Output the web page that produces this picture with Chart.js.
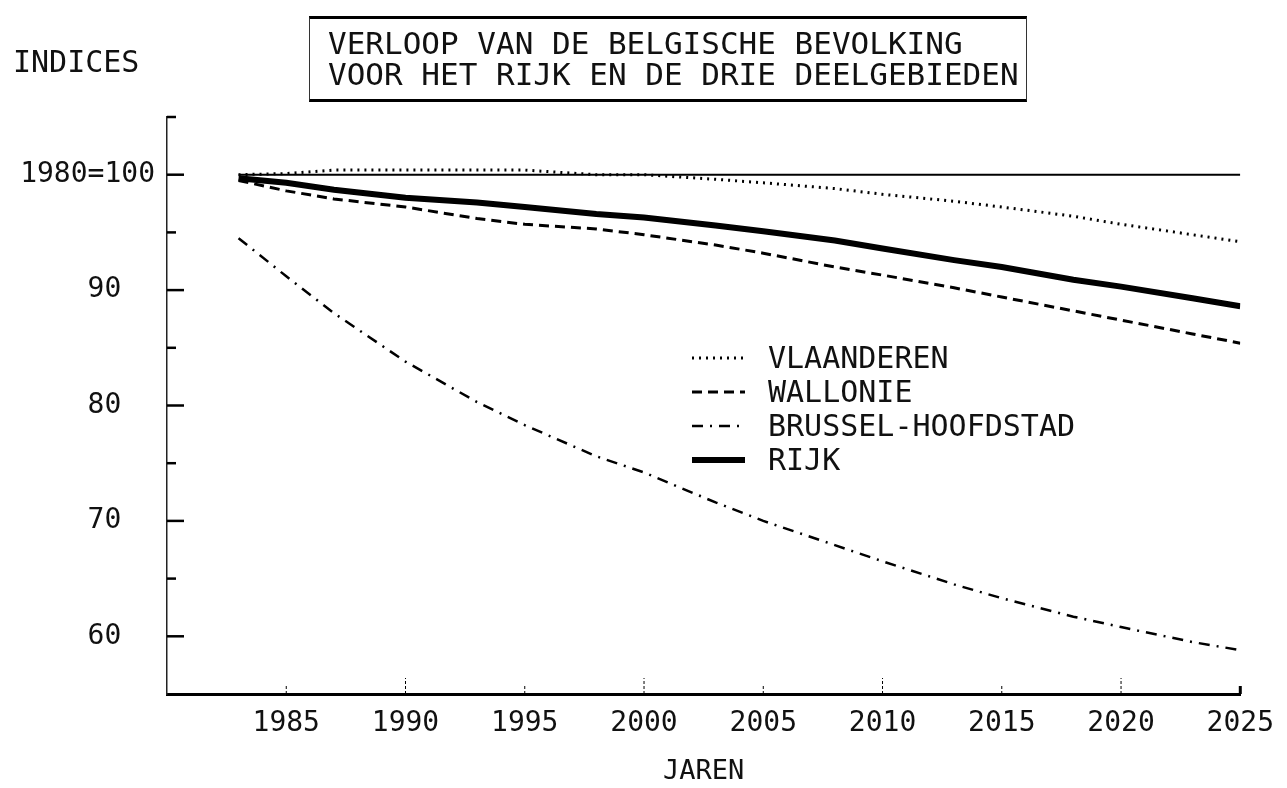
<!DOCTYPE html>
<html>
<head>
<meta charset="utf-8">
<script src="https://cdn.jsdelivr.net/npm/chart.js@4.4.1/dist/chart.umd.min.js"></script>
<style>
  body { margin: 0; background: #fff; }
  #wrap { position: relative; width: 1287px; height: 788px; }
  .txt { position: absolute; font-family: "DejaVu Sans Mono", monospace; color: #111; white-space: pre; }
  #title {
    left: 309px; top: 16px; width: 718px; height: 86px;
    border-top: 3px solid #000; border-bottom: 3px solid #000;
    border-left: 1px solid #333; border-right: 1px solid #333;
    font-size: 31px; line-height: 31px; padding: 9px 0 0 18px; box-sizing: border-box;
  }
  #indices { left: 13px; top: 47px; font-size: 30px; line-height: 30px; }
</style>
</head>
<body>
<div id="wrap">
  <canvas id="bevolking" width="1287" height="788"></canvas>
  <div class="txt" id="title">VERLOOP VAN DE BELGISCHE BEVOLKING
VOOR HET RIJK EN DE DRIE DEELGEBIEDEN</div>
  <div class="txt" id="indices">INDICES</div>
</div>
<script>
// jaren en indexcijfers (1980=100)
const years = [1983, 1985, 1987, 1990, 1993, 1995, 1998, 2000, 2003, 2005, 2008, 2010, 2013, 2015, 2018, 2020, 2023, 2025];
const vlaanderen = [100.0, 100.1, 100.4, 100.4, 100.4, 100.4, 100.0, 100.0, 99.6, 99.3, 98.8, 98.3, 97.7, 97.2, 96.4, 95.7, 94.8, 94.2];
const wallonie = [99.5, 98.6, 97.9, 97.2, 96.2, 95.7, 95.3, 94.8, 93.9, 93.2, 92.0, 91.3, 90.2, 89.4, 88.2, 87.4, 86.2, 85.4];
const brussel = [94.5, 91.2, 88.0, 83.8, 80.3, 78.3, 75.6, 74.2, 71.6, 70.0, 67.9, 66.5, 64.5, 63.3, 61.7, 60.8, 59.5, 58.8];
const rijk = [99.7, 99.3, 98.7, 98.0, 97.6, 97.2, 96.6, 96.3, 95.6, 95.1, 94.3, 93.6, 92.6, 92.0, 90.9, 90.3, 89.3, 88.6];

// basislijn 100
const baseYears = [1983, 2025];
const baseValues = [100, 100];

// y-as labels
const yLabelValues = [60, 70, 80, 90, 100];
const yLabelTexts = ["60  ", "70  ", "80  ", "90  ", "1980=100"];

const toPoints = (xs, ys) => xs.map((x, i) => ({ x: x, y: ys[i] }));

Chart.defaults.font.family = "'DejaVu Sans Mono', monospace";
Chart.defaults.color = "#111";

const tickMarks = {
  id: "tickMarks",
  afterDraw(chart) {
    const { ctx, chartArea } = chart;
    const x = chart.scales.x;
    const y = chart.scales.y;
    ctx.save();
    ctx.strokeStyle = "#000";
    y.ticks.forEach((t) => {
      if (t.value <= y.min) return;
      const py = y.getPixelForValue(t.value);
      const major = t.value % 10 === 0 && t.value < y.max;
      ctx.lineWidth = 2.5;
      ctx.beginPath();
      ctx.moveTo(chartArea.left, py);
      ctx.lineTo(chartArea.left + (major ? 17 : 9), py);
      ctx.stroke();
    });
    x.ticks.forEach((t) => {
      if (t.value <= x.min) return;
      const px = x.getPixelForValue(t.value);
      const end = t.value >= x.max;
      ctx.lineWidth = end ? 3 : 1;
      ctx.setLineDash(end ? [] : [3, 2]);
      ctx.beginPath();
      ctx.moveTo(px, chartArea.bottom);
      ctx.lineTo(px, chartArea.bottom - (end ? 8 : t.value % 10 === 0 ? 16 : 8));
      ctx.stroke();
    });
    ctx.restore();
  },
};

const lineLegend = {
  id: "lineLegend",
  afterDraw(chart) {
    const { ctx } = chart;
    const items = chart.data.datasets.filter((d) => d.label);
    ctx.save();
    ctx.font = "30px 'DejaVu Sans Mono'";
    ctx.textBaseline = "middle";
    ctx.fillStyle = "#111";
    items.forEach((d, i) => {
      const yy = 358 + i * 34;
      ctx.strokeStyle = "#000";
      ctx.lineWidth = d.borderWidth;
      ctx.setLineDash(d.borderDash || []);
      ctx.beginPath();
      ctx.moveTo(692, yy);
      ctx.lineTo(745, yy);
      ctx.stroke();
      ctx.fillText(d.label, 768, yy + 2);
    });
    ctx.restore();
  },
};

new Chart(document.getElementById("bevolking"), {
  type: "line",
  data: {
    datasets: [
      {
        label: "",
        data: toPoints(baseYears, baseValues),
        borderColor: "#000",
        borderWidth: 2,
      },
      {
        label: "VLAANDEREN",
        data: toPoints(years, vlaanderen),
        borderColor: "#000",
        borderWidth: 3,
        borderDash: [2, 5],
      },
      {
        label: "WALLONIE",
        data: toPoints(years, wallonie),
        borderColor: "#000",
        borderWidth: 3,
        borderDash: [10, 6],
      },
      {
        label: "BRUSSEL-HOOFDSTAD",
        data: toPoints(years, brussel),
        borderColor: "#000",
        borderWidth: 2.5,
        borderDash: [11, 7, 2, 7],
      },
      {
        label: "RIJK",
        data: toPoints(years, rijk),
        borderColor: "#000",
        borderWidth: 6,
      },
    ],
  },
  options: {
    responsive: false,
    animation: false,
    layout: { padding: { top: 117, right: 37, left: 0, bottom: 0 } },
    elements: {
      line: { tension: 0, fill: false, borderCapStyle: "butt" },
      point: { radius: 0 },
    },
    plugins: {
      legend: { display: false },
      tooltip: { enabled: false },
    },
    scales: {
      x: {
        type: "linear",
        min: 1980,
        max: 2025,
        afterFit: (scale) => { scale.height = 94; },
        ticks: {
          stepSize: 5,
          padding: 13,
          maxRotation: 0,
          font: { size: 28 },
          callback: (v) => (v === 1980 ? "" : String(v)),
        },
        grid: { drawOnChartArea: false, drawTicks: false },
        border: { display: true, color: "#000", width: 3 },
        title: {
          display: true,
          text: "JAREN",
          font: { size: 27 },
          padding: { top: 0, bottom: 0 },
        },
      },
      y: {
        min: 55,
        max: 105,
        afterFit: (scale) => { scale.width = 167; },
        ticks: {
          stepSize: 5,
          padding: 12,
          font: { size: 28 },
          callback: (v) => {
            const i = yLabelValues.indexOf(v);
            return i >= 0 ? yLabelTexts[i] : "";
          },
        },
        grid: { drawOnChartArea: false, drawTicks: false },
        border: { display: true, color: "#222", width: 1.5, dash: [4, 2] },
      },
    },
  },
  plugins: [tickMarks, lineLegend],
});
</script>
</body>
</html>
